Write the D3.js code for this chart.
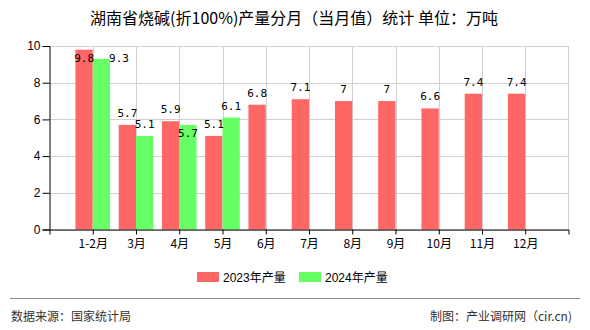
<!DOCTYPE html>
<html>
<head>
<meta charset="utf-8">
<script src="https://cdn.jsdelivr.net/npm/d3@7"></script>
<style>
  html, body { margin: 0; padding: 0; background: #fff; }
  svg { display: block; }
</style>
</head>
<body>
<svg id="chart" width="590" height="330"></svg>
<script>
// ---- data ----
const categories = ["1-2月", "3月", "4月", "5月", "6月", "7月", "8月", "9月", "10月", "11月", "12月"];
const series2023 = [9.8, 5.7, 5.9, 5.1, 6.8, 7.1, 7, 7, 6.6, 7.4, 7.4];
const series2024 = [9.3, 5.1, 5.7, 6.1, null, null, null, null, null, null, null];
const seriesNames = ["2023年产量", "2024年产量"];
const yTicks = [0, 2, 4, 6, 8, 10];
const titleText = "湖南省烧碱(折100%)产量分月（当月值）统计 单位：万吨";
const sourceText = "数据来源：国家统计局";
const creditText = "制图：产业调研网（cir.cn)";

// ---- layout ----
const plotL = 49.5, plotR = 568.5, plotT = 46, plotB = 229.5;
const colors = ["#FF6666", "#66FF66"];
const cjk = '"Noto Sans CJK SC", "Liberation Sans", sans-serif';
const latin = '"Liberation Sans", "Noto Sans CJK SC", sans-serif';

const svg = d3.select("#chart");

const x = d3.scalePoint().domain(categories).range([plotL, plotR]).padding(1);
const y = d3.scaleLinear().domain([0, 10]).range([plotB, plotT]);
const step = x.step();
const bw = step * 0.4;

// title
svg.append("text")
  .attr("x", 294).attr("y", 24)
  .attr("text-anchor", "middle")
  .attr("font-family", cjk).attr("font-size", 16)
  .attr("fill", "#000")
  .text(titleText);

// grid
const grid = svg.append("g");
grid.selectAll("line.h").data(yTicks).join("line")
  .attr("x1", plotL).attr("x2", plotR)
  .attr("y1", d => Math.round(y(d)) + 0.5).attr("y2", d => Math.round(y(d)) + 0.5)
  .attr("stroke", "#d0d0d0");
grid.selectAll("line.v").data(categories).join("line")
  .attr("x1", d => Math.round(x(d)) + 0.5).attr("x2", d => Math.round(x(d)) + 0.5)
  .attr("y1", plotT).attr("y2", plotB)
  .attr("stroke", "#d0d0d0");
grid.append("line")
  .attr("x1", plotR).attr("x2", plotR).attr("y1", plotT).attr("y2", plotB)
  .attr("stroke", "#d0d0d0");

// bars
const barData = [];
categories.forEach((c, i) => {
  [series2023, series2024].forEach((s, k) => {
    const v = s[i];
    if (v == null) return;
    const x0 = k === 0 ? x(c) - bw : x(c);
    barData.push({ c, i, k, v, x0 });
  });
});
svg.append("g").selectAll("rect").data(barData).join("rect")
  .attr("x", d => d.x0)
  .attr("y", d => y(d.v))
  .attr("width", bw)
  .attr("height", d => y(0) - y(d.v))
  .attr("fill", d => colors[d.k]);

// axes
const yAxis = d3.axisLeft(y).tickValues(yTicks).tickSize(7).tickPadding(2).tickFormat(d3.format("d"));
const gy = svg.append("g").attr("transform", `translate(${plotL},0)`).call(yAxis);
gy.selectAll("text").attr("font-family", latin).attr("font-size", 12).attr("fill", "#000");
gy.select(".domain").attr("stroke", "#000");
gy.selectAll(".tick line").attr("stroke", "#000");

const xAxis = d3.axisBottom(x).tickSize(5).tickSizeOuter(5).tickPadding(5);
const gx = svg.append("g").attr("transform", `translate(0,${plotB})`).call(xAxis);
gx.selectAll("text").attr("font-family", cjk).attr("font-size", 12).attr("fill", "#000");
gx.select(".domain").attr("stroke", "#000");
gx.selectAll(".tick line").attr("stroke", "#000");

// value labels with simple collision handling
const lblW = 20, lblH = 9, minBase = plotT + 16;
const placed = [];
barData.forEach(d => {
  const txt = d3.format("")(d.v);
  let cx = d.x0 + bw / 2;
  let base = y(d.v) - 8;
  let clamped = false;
  if (base - lblH < plotT) { base = minBase; clamped = true; }
  const box = () => ({ x1: cx - lblW / 2, x2: cx + lblW / 2, y1: base - lblH, y2: base });
  const hit = b => placed.some(p => b.x1 < p.x2 && b.x2 > p.x1 && b.y1 <= p.y2 && b.y2 >= p.y1);
  if (hit(box())) {
    if (clamped) { cx = d.x0 + bw + lblW / 2 - 1; }
    else { base = y(d.v) + 12; }
  }
  placed.push(box());
  d.lx = cx; d.ly = base; d.txt = txt;
});
svg.append("g").selectAll("text").data(barData).join("text")
  .attr("x", d => d.lx).attr("y", d => d.ly)
  .attr("text-anchor", "middle")
  .attr("font-family", '"DejaVu Sans Mono", "Liberation Mono", monospace')
  .attr("font-size", 11)
  .attr("fill", "#000")
  .text(d => d.txt);

// legend
const legend = svg.append("g");
const legX = [197, 299];
seriesNames.forEach((n, k) => {
  legend.append("rect").attr("x", legX[k]).attr("y", 272).attr("width", 22).attr("height", 10).attr("fill", colors[k]);
  legend.append("text").attr("x", legX[k] + 26).attr("y", 282)
    .attr("font-family", latin).attr("font-size", 12).attr("fill", "#000").text(n);
});

// footer
svg.append("line").attr("x1", 10).attr("x2", 580).attr("y1", 298.5).attr("y2", 298.5)
  .attr("stroke", "#888").attr("stroke-width", 1.2);
svg.append("text").attr("x", 11).attr("y", 321)
  .attr("font-family", cjk).attr("font-size", 12).attr("fill", "#333").text(sourceText);
svg.append("text").attr("x", 572).attr("y", 321).attr("text-anchor", "end")
  .attr("font-family", cjk).attr("font-size", 12).attr("fill", "#333").text(creditText);
</script>
</body>
</html>
